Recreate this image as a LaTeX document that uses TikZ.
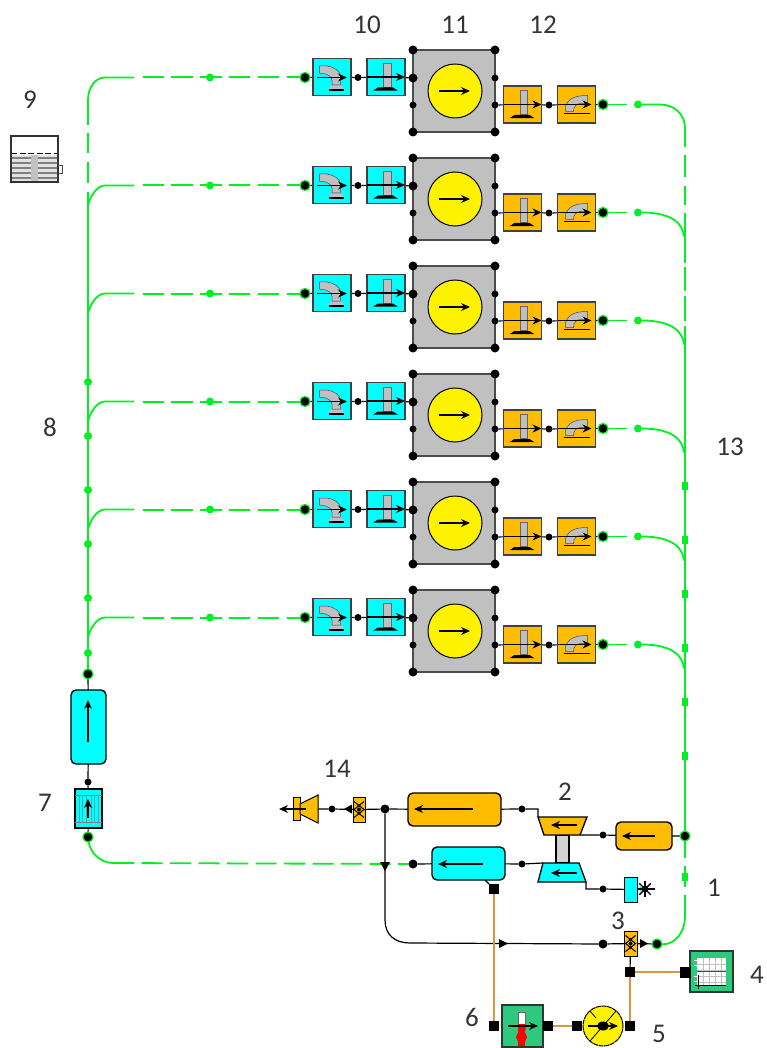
\documentclass[tikz,border=0pt]{standalone}
\usepackage{fontspec}
\setmainfont{Carlito}
\usetikzlibrary{arrows.meta,backgrounds,calc}
\definecolor{orng}{HTML}{FFBC00}
\definecolor{cyn}{HTML}{00FFFF}
\definecolor{grn}{HTML}{00F020}
\definecolor{inst}{HTML}{2FC97E}
\definecolor{tan}{HTML}{D29A3A}
\definecolor{gry}{HTML}{C0C0C0}
\definecolor{lbl}{HTML}{333333}
\tikzset{
  x=1pt,y=-1pt,
  blk/.style={line width=1.2pt,black},
  gline/.style={line width=1.8pt,grn},
  gdash/.style={gline,dash pattern=on 21pt off 7.5pt},
  tline/.style={line width=1.5pt,tan},
  flow/.style={blk,-{Stealth[length=9pt,width=8pt]}},
  box/.style={draw=black!75,line width=1.2pt,minimum width=38pt,minimum height=37pt,inner sep=0pt,outer sep=0pt},
  cbox/.style={box,fill=cyn},
  obox/.style={box,fill=orng},
  grey/.style={draw=black!70,line width=1.5pt,fill=gry,minimum width=82pt,minimum height=82pt,inner sep=0pt,outer sep=0pt},
  disc/.style={circle,draw=black,line width=1pt,fill=yellow,inner sep=0pt,outer sep=0pt},
  jn/.style={circle,fill=black,inner sep=0pt,minimum size=7pt,outer sep=0pt},
  cj/.style={circle,fill=black,inner sep=0pt,minimum size=9pt,outer sep=0pt},
  gj/.style={circle,fill=black,draw=grn,line width=1.2pt,inner sep=0pt,minimum size=10pt,outer sep=0pt},
  gd/.style={circle,fill=grn,inner sep=0pt,minimum size=8pt,outer sep=0pt},
  gs/.style={rectangle,fill=grn,inner sep=0pt,minimum width=6pt,minimum height=8pt,outer sep=0pt},
  sq/.style={rectangle,fill=black,inner sep=0pt,minimum size=10pt,outer sep=0pt},
  pipe/.style={rectangle,rounded corners=5pt,draw=black,line width=1.4pt,inner sep=0pt,outer sep=0pt},
  lab/.style={text=lbl,font=\fontsize{27}{27}\selectfont,inner sep=0pt},
  pics/stemicon/.style={code={
    \fill[gry,draw=black!60,line width=.4pt] (-2.5,-14) rectangle (5,10);
    \fill[black] (-13,13.7)--(12,13.7)--(7,10.5)--(-8,10.5)--cycle;
    \draw[flow] (-19,0)--(19,0);}},
  pics/inelbow/.style={code={
    \fill[gry,draw=black!70,line width=.5pt] (-12.3,-11)--(-5,-11) .. controls (2,-10) and (8.3,-6) .. (8.3,-1)--(8.3,8)--(0,8)--(0,3) .. controls (0,0) and (-4,-3.7) .. (-12.3,-3.7)--cycle;
    \fill[gry] (-2,9) rectangle (11,12);
    \draw[black,line width=1.4pt] (-3,13)--(12,13);
    \draw[flow] (-15,.5)--(15,.5);}},
  pics/outelbow/.style={code={
    \fill[gry,draw=black!70,line width=.5pt] (-11,7)--(-11,2) .. controls (-8,-6) and (-2,-9) .. (11,-9)--(11,-1)--(4,-1) .. controls (0,-1) and (-3,2) .. (-3,7)--cycle;
    \draw[black,line width=1.8pt] (-13,9)--(13,9);
    \draw[flow] (-19,0)--(15,0);}},
  pics/valveicon/.style={code={
    \draw[black,line width=1pt] (-5,-8)--(5,0)--(-5,8) (5,-8)--(-5,0)--(5,8);
    \fill[black] (0,-4) circle (1.6) (0,0) circle (2) (0,4) circle (1.6);}},
}
\begin{document}
\begin{tikzpicture}
\useasboundingbox (0,0) rectangle (767,1048);
\begin{pgfonlayer}{background}
\fill[white] (0,0) rectangle (767,1048);
\end{pgfonlayer}

% ---- six repeated rows
\foreach \i in {0,1,2,3,4,5}{
\begin{scope}[yshift={-108*\i pt}]
  \node[cbox] (ca\i) at (332,77) {};
  \node[cbox] (cb\i) at (386,77) {};
  \node[grey] (g\i) at (454,91) {};
  \node[disc,minimum size=54pt] (d\i) at (455,91) {};
  \node[obox] (oa\i) at (522.5,104.5) {};
  \node[obox] (ob\i) at (576.5,104.5) {};
  \pic at (ca\i) {inelbow};
  \pic at (cb\i) {stemicon};
  \pic at (oa\i) {stemicon};
  \pic at (ob\i) {outelbow};
  \draw[flow] (439,91)--(470,91);
  \node[gj] (in\i) at (305,77.5) {};
  \node[jn] (ja\i) at (358,77.5) {};
  \node[cj] at (g\i.north west) {};
  \node[cj] at (g\i.north east) {};
  \node[cj] at (g\i.south west) {};
  \node[cj] at (g\i.south east) {};
  \node[cj] (gl\i) at (413,78) {};
  \node[jn] at (413,105) {};
  \node[jn] at (495,78) {};
  \node[jn] (gr\i) at (495,105) {};
  \node[jn] (jb\i) at (549,105) {};
  \node[gj] (out\i) at (603,104.5) {};
  \node[gd] (mi\i) at (210,77.5) {};
  \node[gd] (mo\i) at (638,104.5) {};
  \coordinate (ls\i) at (134,77.5);
  \coordinate (os\i) at (627,104.5);
  \begin{pgfonlayer}{background}
    \draw[blk] (in\i)--(ca\i) (ca\i)--(ja\i)--(cb\i)--(gl\i);
    \draw[blk] (gr\i)--(oa\i) (oa\i)--(jb\i)--(ob\i)--(out\i);
    \foreach \a/\b in {143/164,171/193,200/222,229/250,258/279,287/305}{
      \fill[grn] (\a,76.5) rectangle (\b,78.5);
    }
    \draw[gline] (out\i)--(os\i);
  \end{pgfonlayer}
\end{scope}
}

% ---- fuel tank 9
\node[draw=black!80,line width=1.2pt,fill=white,minimum width=47pt,minimum height=46pt,inner sep=0pt,outer sep=0pt] (tank) at (34.5,159) {};
\fill[gry!45] (12,155) rectangle (58,181.5);
\foreach \y in {158,163,168,173,178}{\draw[gray,line width=1.4pt] (12,\y)--(58,\y);}
\fill[gry] (31,155) rectangle (38,181.5);
\draw[black,line width=1pt,dash pattern=on 6pt off 2.5pt] (11,154)--(58,154);
\draw[black!80,line width=1.2pt] (tank.north west) rectangle (tank.south east);
\draw[black!70,line width=1pt] (58,166) -- (62,166) -- (62,174) -- (58,174);

% ---- left trunk components
\node[pipe,fill=cyn,minimum width=35pt,minimum height=74pt] (lp) at (88.5,727) {};
\draw[flow] (88,742)--(88,700);
\node[draw=black,line width=1.2pt,fill=cyn,minimum width=27pt,minimum height=39pt,inner sep=0pt,outer sep=0pt] (cl) at (88.5,808.5) {};
\foreach \x in {79,82.5,86,91,94.5,98}{\draw[gray!70!cyn,line width=1pt] (\x,795)--(\x,822);}
\draw[gray,line width=1pt] (75,795)--(102,795) (75,822)--(102,822);
\draw[flow] (88,818)--(88,799);
\node[gj] (lt) at (88,674) {};
\node[jn] (lj) at (88,782) {};
\node[gj] (lb) at (88,837) {};

% left green trunk
\foreach \n/\y in {1/382,2/436,3/490,4/544,5/598,6/653}{\node[gd] (t\n) at (88,\y) {};}
\coordinate (ta) at (88,125);
\coordinate (tc) at (88,192);
\begin{pgfonlayer}{background}
  \draw[blk] (lt)--(lp) (lp)--(lj)--(cl) (cl)--(lb);
  \draw[gline] (ls0)--(105,77.5) .. controls (95,77.5) and (88,88) .. (88,100)--(ta);
  \foreach \a/\b in {133/153,162/183}{\fill[grn] (87,\a) rectangle (89,\b);}
  \draw[gline] (tc)--(lt);
  \foreach \i in {1,2,3,4,5}{
    \draw[gline] (ls\i)--([xshift=-29pt]ls\i) .. controls +(-8,0) and +(2,-9) .. +(-17,20);
  }
\end{pgfonlayer}

% right green trunk
\foreach \n/\y in {1/486,2/540,3/594,4/648,5/702,6/756}{\node[gs] (r\n) at (685,\y) {};}
\node[gj] (rj) at (685,836) {};
\node[gs] (rk) at (685,877) {};
\coordinate (ra) at (685,128);
\coordinate (rb) at (685,326);
\coordinate (rc) at (685,917);
\coordinate (rd) at (685,895);
\coordinate (re) at (685,858);
\coordinate (rf) at (685,866);
\coordinate (rg) at (685,887);
\begin{pgfonlayer}{background}
  \draw[gline] (mo0)--(660,104.5) .. controls (675,104.5) and (685,115) .. (ra);
  \foreach \a/\b in {128/147,155/177,186/205,213/263,267/291,296/321}{\fill[grn] (684,\a) rectangle (686,\b);}
  \draw[gline] (rb)--(rj);
  \fill[grn] (684,836) rectangle (686,858);
  \fill[grn] (684,866) rectangle (686,887);
  \foreach \i in {1,2,3,4,5}{
    \draw[gline] (mo\i)--([xshift=22pt]mo\i) .. controls +(13,0) and +(-1,-12) .. +(24,24);
  }
\end{pgfonlayer}

% ---- engine group
\node[pipe,fill=orng,minimum width=93pt,minimum height=33pt] (ep) at (454.5,809.5) {};
\draw[flow] (473,809)--(414,809);
\node[pipe,fill=cyn,minimum width=73pt,minimum height=33pt] (ip) at (468.5,863.5) {};
\draw[flow] (483,864)--(438,864);
\node[pipe,fill=orng,minimum width=56pt,minimum height=28pt] (ap) at (644,836) {};
\draw[flow] (655,836)--(622,836);

% turbocharger
\coordinate (ctl) at (538,817);
\coordinate (cbr) at (580,835);
\coordinate (ttl) at (543,863);
\coordinate (tbr) at (586,882);
\draw[black,line width=1.2pt,fill=gray!35] (556,835) rectangle (569,863);
\draw[black,line width=1.3pt,fill=orng] (ctl)--(587,817)--(cbr)--(544,835)--cycle;
\draw[flow] (577,825)--(551,825);
\draw[black,line width=1.3pt,fill=cyn] (ttl)--(579,863)--(tbr)--(538,882)--cycle;
\draw[flow] (577,873)--(551,873);

% exhaust and valves
\node[draw=black,line width=1pt,fill=orng,minimum width=7pt,minimum height=23pt,inner sep=0pt,outer sep=0pt] (en) at (296.5,809) {};
\draw[black,line width=1pt,fill=orng] (300,804)--(318,795)--(318,823)--(300,814)--cycle;
\coordinate (ee) at (318,809);
\draw[flow] (306,809)--(279,809);
\node[draw=black,line width=1pt,fill=orng,minimum width=12pt,minimum height=25pt,inner sep=0pt,outer sep=0pt] (ev) at (359,809.5) {};
\pic at (ev) {valveicon};
\fill[black] (352,804.5)--(352,813.5)--(344,809)--cycle;
\node[jn] (e1) at (332,809) {};
\node[cj] (e2) at (385,809) {};
\node[jn] (e3) at (522,809) {};
\node[cj] (i1) at (413,864) {};
\node[jn] (i2) at (522,864) {};
\node[jn] (a1) at (603,835) {};
\node[jn] (s1) at (603,889) {};
\fill[black] (380,862)--(390,862)--(385,871)--cycle;
% silencer
\node[draw=black,line width=1pt,fill=cyn,minimum width=13pt,minimum height=25pt,inner sep=0pt,outer sep=0pt] (sil) at (630.5,889.5) {};
\foreach \a in {0,45,90,135,180,225,270,315}{\draw[black,line width=1.4pt] (645,889)--+(\a:8);}
\fill[black] (645,889) circle (3.5);
\fill[cyn] (641,886) -- (643,889) -- (641,892) -- (638,889) -- cycle;
\draw[blk] (637,889)--(655,889);

% bottom line
\node[draw=black,line width=1pt,fill=orng,minimum width=13pt,minimum height=25pt,inner sep=0pt,outer sep=0pt] (v3) at (630.5,943.5) {};
\pic at (v3) {valveicon};
\node[cj] (b1) at (603,944) {};
\node[gj] (b2) at (657,944) {};
\coordinate (bc) at (410,943);
\fill[black] (499,939)--(499,948)--(508,943.5)--cycle;
\fill[black] (640,939)--(640,948)--(648,943.5)--cycle;

% instruments
\node[draw=black!80,line width=1.3pt,fill=inst,minimum width=43pt,minimum height=41pt,inner sep=0pt,outer sep=0pt] (m4) at (711.5,971.5) {};
\fill[white] (697,958) rectangle (726,985);
\foreach \x in {703,709,715,721}{\draw[gry,line width=1pt] (\x,958)--(\x,985);}
\foreach \y in {964,970,976,982}{\draw[gry,line width=1pt] (697,\y)--(726,\y);}
\foreach \y in {960,965,976,981}{\draw[white,line width=1pt] (694,\y)--(699,\y);}
\draw[black,line width=1pt] (698,975)--(698,989) (695,985)--(726,985);
\draw[red,line width=1.4pt] (697,971.5)--(726,971.5);
\node[sq,minimum size=11pt] (s4) at (685,972) {};
\node[sq] (s3) at (630,972) {};

\node[draw=black!80,line width=1.3pt,fill=inst,minimum width=41pt,minimum height=42pt,inner sep=0pt,outer sep=0pt] (m6) at (522.5,1026) {};
\fill[white,draw=black!60,line width=.5pt] (518,1012) rectangle (525,1030);
\fill[red] (518,1024) rectangle (525,1046);
\fill[red] (521.5,1037) circle (5.5);
\draw[flow] (508,1026)--(538,1026);
\node[sq] (s6a) at (494,1026) {};
\node[sq] (s6b) at (548,1026) {};
\node[sq] (s6c) at (494,889) {};

\node[disc,minimum size=40pt,draw=black,dash pattern=on 5pt off .6pt] (m5) at (603,1026) {};
\draw[black,line width=.8pt] (590,1041)--(616,1011) (590,1011)--(596,1018);
\draw[flow] (588,1026)--(618,1026);
\fill[black] (603,1026) ellipse (6 and 4.5);
\node[sq] (s5a) at (577,1026) {};
\node[sq] (s5b) at (630,1026) {};

% connectors of the engine group
\begin{pgfonlayer}{background}
  \draw[gline] (lb) .. controls (90,852) and (100,863) .. (113,863);
  \draw[gdash] (113,863)--(i1);
  \draw[blk] (en)--(ee) (ee)--(e1)--(ev) (ev)--(e2)--(ep);
  \draw[blk] (ep)--(e3)--(538,809)--(ctl);
  \draw[blk] (cbr)--(a1)--(ap) (ap)--(rj);
  \draw[blk] (i1)--(ip) (ip)--(i2)--(ttl);
  \draw[blk] (tbr)--(586,889)--(s1)--(sil);
  \draw[blk] (e2)--(385,920) .. controls (385,935) and (395,943) .. (bc)--(b1)--(v3) (v3)--(b2);
  \draw[blk] (v3)--(s3);
  \draw[gline] (rd)--(rc) .. controls (685,932) and (675,945) .. (b2);
  \draw[tline] (s6c)--(s6a);
  \draw[tline] (s6b)--(s5a);
  \draw[tline] (s5b)--(s3)--(s4);
  \draw[blk] (s6c)--(ip);
\end{pgfonlayer}

% ---- labels
\node[lab] (l1) at (714,888) {1};
\node[lab] (l2) at (565,792) {2};
\node[lab] (l3) at (618,921) {3};
\node[lab] (l4) at (757,975) {4};
\node[lab] (l5) at (659,1034) {5};
\node[lab] (l6) at (472,1017) {6};
\node[lab] (l7) at (45,803) {7};
\node[lab] (l8) at (50,427) {8};
\node[lab] (l9) at (30,100) {9};
\node[lab] (l10) at (367,25) {10};
\node[lab] (l11) at (455,25) {11};
\node[lab] (l12) at (543,25) {12};
\node[lab] (l13) at (730,447) {13};
\node[lab] (l14) at (337,769) {14};
\end{tikzpicture}
\end{document}
